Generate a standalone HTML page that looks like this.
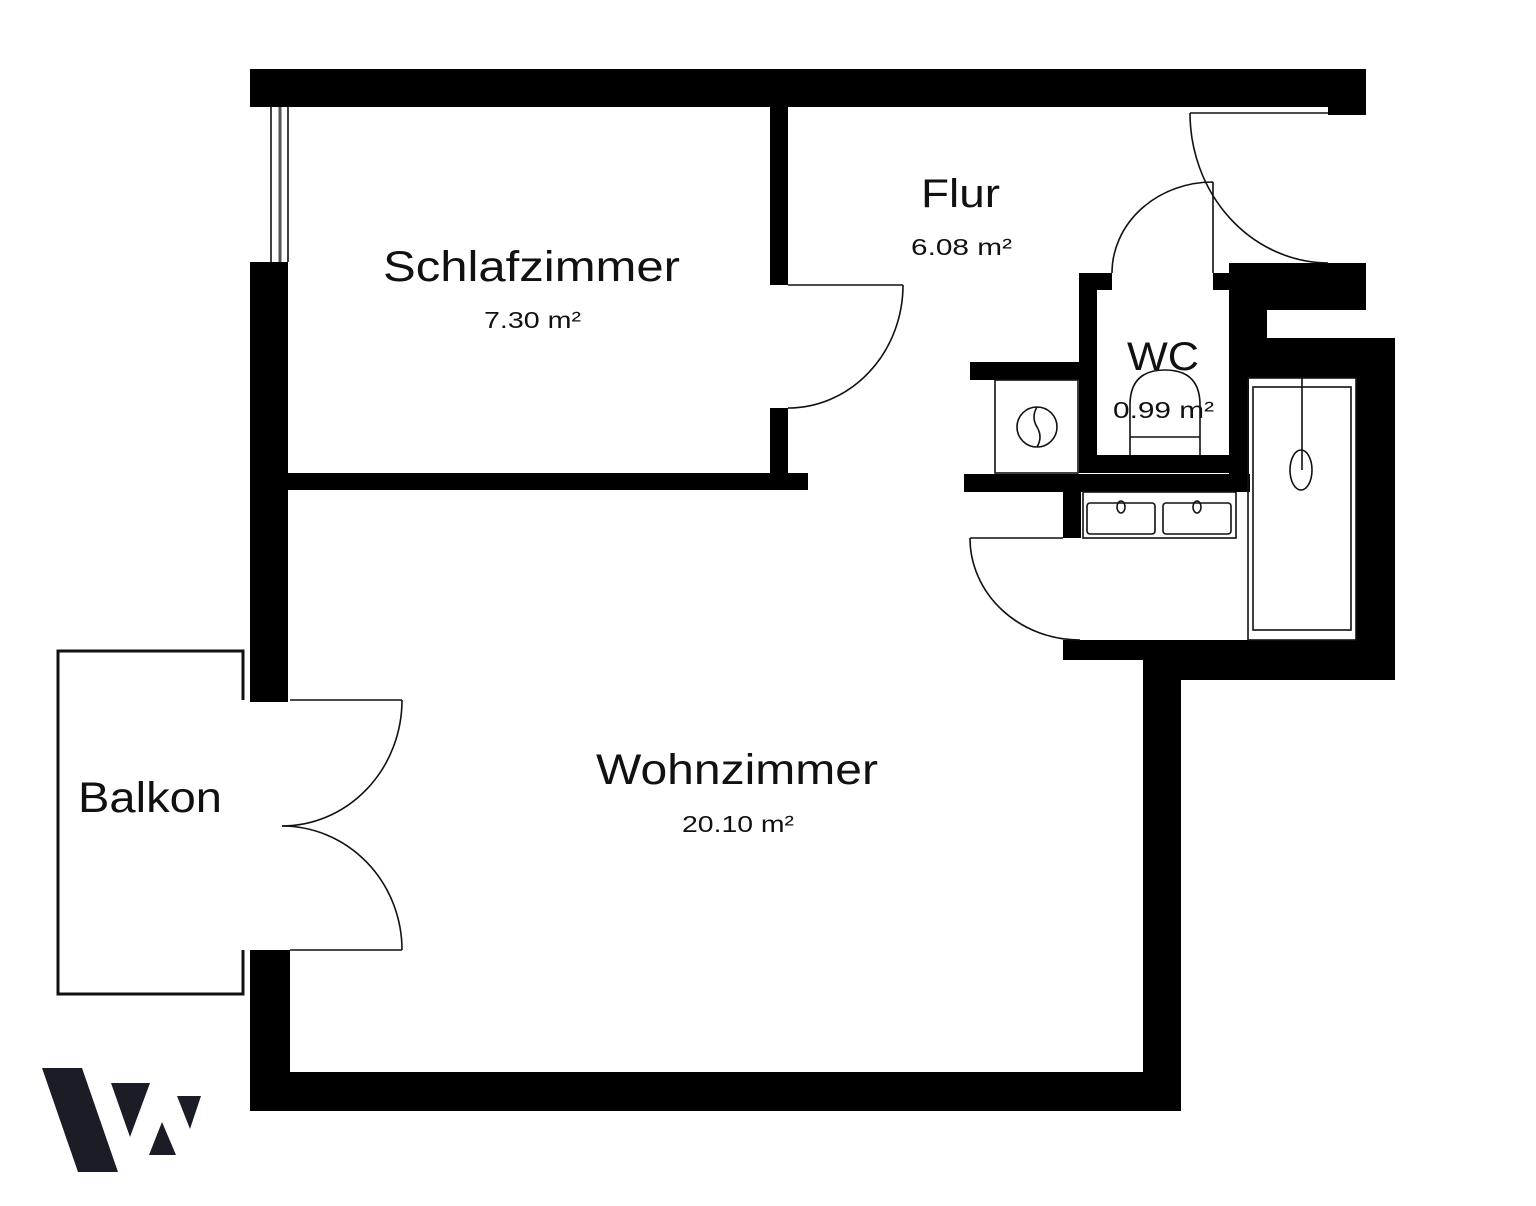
<!DOCTYPE html>
<html><head><meta charset="utf-8"><style>
html,body{margin:0;padding:0;background:#fff;}
svg{display:block;}
text{font-family:"Liberation Sans","DejaVu Sans",sans-serif;fill:#111;}
</style></head><body>
<svg width="1536" height="1206" viewBox="0 0 1536 1206" xmlns="http://www.w3.org/2000/svg">
<g fill="#000">
<rect x="250" y="69" width="1116" height="38"/>
<rect x="1328" y="69" width="38" height="46"/>
<rect x="250" y="262" width="38" height="440"/>
<rect x="250" y="950" width="40" height="161"/>
<rect x="250" y="1072" width="931" height="39"/>
<rect x="1143" y="640" width="38" height="471"/>
<rect x="1063" y="640" width="332" height="20"/>
<rect x="1143" y="640" width="252" height="40"/>
<rect x="1356" y="338" width="39" height="342"/>
<rect x="1229" y="338" width="166" height="40"/>
<rect x="1229" y="263" width="137" height="47"/>
<rect x="1229" y="263" width="38" height="80"/>
<rect x="1213" y="273" width="20" height="17"/>
<rect x="1079" y="273" width="33" height="17"/>
<rect x="1079" y="273" width="18" height="200"/>
<rect x="1229" y="273" width="20" height="215"/>
<rect x="1097" y="455" width="133" height="18"/>
<rect x="964" y="474" width="286" height="18"/>
<rect x="970" y="362" width="110" height="18"/>
<rect x="1063" y="474" width="18" height="64"/>
<rect x="288" y="473" width="520" height="17"/>
<rect x="770" y="107" width="18" height="178"/>
<rect x="770" y="408" width="18" height="66"/>
</g>
<g fill="none" stroke="#111" stroke-width="1.6">
<line x1="271" y1="107" x2="271" y2="262"/>
<line x1="288" y1="107" x2="288" y2="262"/>
<line x1="280" y1="107" x2="280" y2="262" stroke-width="3" stroke="#555"/>
<line x1="1190" y1="113" x2="1328" y2="113"/>
<path d="M1190 113 A139 150 0 0 0 1328 263"/>
<line x1="1213" y1="182" x2="1213" y2="273"/>
<path d="M1213 182 A101 91 0 0 0 1112 273"/>
<line x1="788" y1="285" x2="903" y2="285"/>
<path d="M903 285 A115 123 0 0 1 788 408"/>
<line x1="970" y1="538" x2="1063" y2="538"/>
<path d="M970 538 A110 102 0 0 0 1080 640"/>
<line x1="290" y1="700" x2="402" y2="700"/>
<line x1="290" y1="950" x2="402" y2="950"/>
<path d="M402 700 A120 126 0 0 1 282 826"/>
<path d="M282 826 A120 124 0 0 1 402 950"/>
<path d="M243 700 V651 H58 V994 H243 V950" stroke-width="3"/>
<rect x="995" y="380" width="83" height="93"/>
<circle cx="1037" cy="427" r="20"/>
<path d="M1037 407 q-6 10 0 20 q6 10 0 20"/>
<rect x="1083" y="492" width="153" height="46"/>
<rect x="1087" y="503" width="68" height="31" rx="3"/>
<rect x="1163" y="503" width="68" height="31" rx="3"/>
<ellipse cx="1121" cy="507" rx="4" ry="6"/>
<ellipse cx="1197" cy="507" rx="4" ry="6"/>
<rect x="1248" y="378" width="108" height="262"/>
<rect x="1253" y="387" width="98" height="243"/>
<line x1="1302" y1="378" x2="1302" y2="470"/>
<ellipse cx="1301" cy="470" rx="11" ry="20"/>
<path d="M1130 455 V405 Q1130 370 1165 370 Q1200 370 1200 405 V455"/>
<line x1="1130" y1="437" x2="1200" y2="437"/>
</g>
<text x="921" y="207" font-size="40" textLength="79" lengthAdjust="spacingAndGlyphs">Flur</text>
<text x="911" y="255" font-size="23" textLength="101" lengthAdjust="spacingAndGlyphs">6.08 m²</text>
<text x="383" y="281" font-size="43" textLength="297" lengthAdjust="spacingAndGlyphs">Schlafzimmer</text>
<text x="484" y="328" font-size="23" textLength="97" lengthAdjust="spacingAndGlyphs">7.30 m²</text>
<text x="1127" y="370" font-size="40" textLength="72" lengthAdjust="spacingAndGlyphs">WC</text>
<text x="1113" y="418" font-size="23" textLength="101" lengthAdjust="spacingAndGlyphs">0.99 m²</text>
<text x="596" y="784" font-size="43" textLength="282" lengthAdjust="spacingAndGlyphs">Wohnzimmer</text>
<text x="682" y="832" font-size="23" textLength="112" lengthAdjust="spacingAndGlyphs">20.10 m²</text>
<text x="78" y="812" font-size="43" textLength="144" lengthAdjust="spacingAndGlyphs">Balkon</text>
<g fill="#1b1d26">
<polygon points="42,1068 82,1068 118,1172 78,1172"/>
<polygon points="111,1083 150,1083 130,1137"/>
<polygon points="162,1122 176,1155 149,1155"/>
<polygon points="177,1096 201,1096 190,1129"/>
</g>
</svg>
</body></html>
